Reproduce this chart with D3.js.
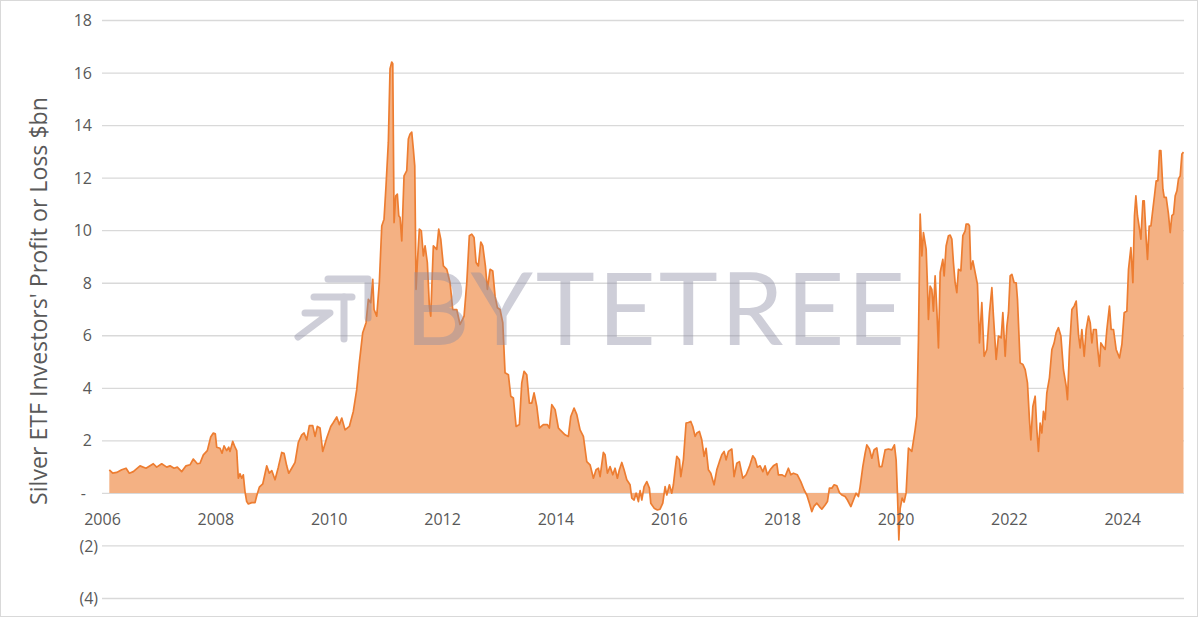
<!DOCTYPE html>
<html>
<head>
<meta charset="utf-8">
<script src="https://cdn.jsdelivr.net/npm/d3@7"></script>
<style>
  html, body { margin: 0; padding: 0; background: #fff; }
  svg { display: block; }
</style>
</head>
<body>
<svg id="chart" width="1200" height="618"></svg>
<script>
// ---- data ----
const yTickValues = [-4, -2, 0, 2, 4, 6, 8, 10, 12, 14, 16, 18];
const xTickYears = [2006, 2008, 2010, 2012, 2014, 2016, 2018, 2020, 2022, 2024];
const yAxisTitle = "Silver ETF Investors' Profit or Loss $bn";
const watermarkText = "BYTETREE";

// decimal-year dates of the series
const dates = [
2006.129,2006.189,2006.259,2006.348,2006.424,2006.482,2006.552,2006.671,2006.776,2006.905,2006.965,
2007.053,2007.142,2007.200,2007.271,2007.329,2007.406,2007.482,2007.553,2007.611,2007.682,2007.729,2007.788,2007.858,2007.918,2007.964,2007.999,
2008.024,2008.082,2008.118,2008.153,2008.200,2008.236,2008.259,2008.306,2008.347,2008.377,2008.405,2008.435,2008.465,2008.493,2008.523,2008.553,2008.582,2008.642,2008.700,2008.730,2008.776,2008.836,2008.906,2008.952,2008.995,
2009.053,2009.111,2009.171,2009.212,2009.259,2009.295,2009.347,2009.406,2009.464,2009.524,2009.565,2009.612,2009.658,2009.718,2009.759,2009.799,2009.847,2009.894,2009.965,
2010.036,2010.082,2010.142,2010.187,2010.230,2010.288,2010.364,2010.434,2010.494,2010.540,2010.600,2010.659,2010.699,2010.741,2010.777,2010.800,2010.847,2010.893,2010.936,2010.976,
2011.011,2011.052,2011.082,2011.112,2011.130,2011.153,2011.183,2011.211,2011.236,2011.259,2011.289,2011.329,2011.377,2011.405,2011.435,2011.465,2011.493,2011.518,2011.541,2011.564,2011.599,2011.634,2011.670,2011.700,2011.740,2011.776,2011.800,2011.846,2011.906,2011.941,2011.977,
2012.023,2012.083,2012.141,2012.188,2012.259,2012.317,2012.388,2012.436,2012.481,2012.524,2012.564,2012.600,2012.640,2012.683,2012.718,2012.764,2012.799,2012.847,2012.894,2012.935,2012.976,
2013.023,2013.071,2013.111,2013.170,2013.212,2013.258,2013.306,2013.364,2013.406,2013.447,2013.494,2013.540,2013.583,2013.623,2013.671,2013.717,2013.787,2013.858,2013.893,2013.936,2013.994,
2014.052,2014.082,2014.170,2014.228,2014.271,2014.329,2014.377,2014.435,2014.493,2014.553,2014.611,2014.670,2014.717,2014.758,2014.788,2014.846,2014.876,2014.917,2014.964,
2015.012,2015.052,2015.093,2015.128,2015.171,2015.211,2015.259,2015.317,2015.347,2015.388,2015.423,2015.464,2015.494,2015.524,2015.564,2015.612,2015.658,2015.682,2015.741,2015.799,2015.846,2015.894,2015.935,2015.965,
2016.011,2016.053,2016.081,2016.111,2016.141,2016.187,2016.212,2016.258,2016.305,2016.346,2016.388,2016.423,2016.464,2016.494,2016.540,2016.582,2016.623,2016.658,2016.699,2016.741,2016.799,2016.847,2016.893,2016.935,2016.976,
2017.011,2017.052,2017.112,2017.152,2017.200,2017.246,2017.306,2017.364,2017.422,2017.482,2017.523,2017.563,2017.611,2017.659,2017.699,2017.740,2017.788,2017.846,2017.906,2017.934,2017.994,
2018.052,2018.110,2018.153,2018.199,2018.269,2018.329,2018.388,2018.435,2018.481,2018.523,2018.564,2018.612,2018.658,2018.700,2018.758,2018.799,2018.834,2018.876,2018.917,2018.965,
2019.011,2019.053,2019.111,2019.152,2019.212,2019.258,2019.305,2019.346,2019.376,2019.423,2019.464,2019.494,2019.540,2019.582,2019.623,2019.670,2019.716,2019.759,2019.817,2019.875,2019.935,2019.981,
2020.011,2020.034,2020.059,2020.082,2020.117,2020.152,2020.187,2020.228,2020.288,2020.346,2020.376,2020.405,2020.435,2020.465,2020.493,2020.541,2020.564,2020.581,2020.611,2020.641,2020.669,2020.699,2020.729,2020.758,2020.788,2020.835,2020.858,2020.893,2020.934,2020.964,2020.994,
2021.022,2021.052,2021.082,2021.110,2021.153,2021.188,2021.229,2021.246,2021.287,2021.305,2021.329,2021.365,2021.405,2021.446,2021.481,2021.523,2021.564,2021.612,2021.658,2021.700,2021.728,2021.776,2021.816,2021.864,2021.894,2021.935,2021.965,2021.993,
2022.023,2022.053,2022.093,2022.129,2022.152,2022.199,2022.247,2022.288,2022.328,2022.363,2022.388,2022.423,2022.464,2022.494,2022.522,2022.552,2022.582,2022.610,2022.640,2022.670,2022.716,2022.759,2022.799,2022.835,2022.875,2022.918,2022.963,
2023.011,2023.034,2023.069,2023.112,2023.152,2023.188,2023.228,2023.258,2023.288,2023.329,2023.364,2023.405,2023.435,2023.465,2023.493,2023.541,2023.563,2023.599,2023.623,2023.659,2023.699,2023.729,2023.775,2023.805,2023.846,2023.893,2023.952,2023.994,
2024.035,2024.082,2024.111,2024.153,2024.188,2024.216,2024.241,2024.269,2024.305,2024.329,2024.365,2024.388,2024.423,2024.446,2024.476,2024.506,2024.541,2024.569,2024.599,2024.629,2024.658,2024.682,2024.718,2024.741,2024.776,2024.816,2024.846,2024.876,2024.905,2024.935,2024.965,2024.993,
2025.023,2025.053,2025.081
];

// profit or loss, $bn
const profitLoss = [
0.88,0.75,0.78,0.88,0.94,0.75,0.81,1.03,0.94,1.11,0.98,
1.11,0.98,1.03,0.94,0.98,0.81,1.03,1.07,1.29,1.11,1.13,1.45,1.61,2.13,2.28,2.25,
1.74,1.70,1.51,1.79,1.61,1.74,1.58,1.96,1.74,1.61,0.56,0.73,0.56,0.69,0.05,-0.33,-0.42,-0.37,-0.37,-0.11,0.22,0.34,1.03,0.75,0.85,
0.50,0.98,1.54,1.51,1.03,0.75,0.94,1.16,1.92,2.21,2.28,2.02,2.56,2.56,2.15,2.53,2.47,1.58,2.09,
2.53,2.68,2.89,2.60,2.85,2.40,2.53,3.10,3.93,4.95,6.10,6.48,7.37,7.24,8.13,6.98,6.73,8.00,10.16,10.42,
11.69,13.35,16.15,16.40,16.34,10.29,11.31,11.37,10.55,10.48,9.59,12.07,12.27,13.47,13.66,13.73,13.09,12.45,7.75,8.77,10.04,9.97,9.02,9.40,8.77,7.11,6.73,9.40,9.27,10.04,9.66,
8.64,8.51,8.00,6.98,6.98,6.41,6.73,8.00,9.79,9.85,9.72,8.77,8.64,9.55,9.40,8.64,7.75,8.51,8.45,7.49,7.05,
6.98,6.48,4.57,4.50,3.68,3.61,2.53,2.60,4.19,4.63,4.50,3.42,3.42,3.81,3.29,2.47,2.60,2.60,2.47,3.36,3.17,
2.47,2.40,2.21,2.15,2.91,3.23,2.98,2.40,2.15,1.19,1.07,0.56,0.88,0.94,0.62,1.54,1.45,0.75,1.00,
0.69,0.94,0.56,0.88,1.16,0.88,0.50,0.31,-0.20,-0.27,-0.01,-0.33,0.09,-0.27,0.24,0.43,0.18,-0.39,-0.58,-0.65,-0.62,-0.39,0.24,-0.08,
0.31,-0.01,0.31,0.88,1.39,1.26,0.62,1.26,2.66,2.68,2.72,2.53,2.15,2.28,2.34,2.02,1.39,1.70,0.88,0.75,0.31,0.88,1.19,1.45,1.58,
1.26,1.58,1.67,0.62,1.13,1.19,0.56,0.69,1.00,1.41,1.29,0.98,1.03,0.81,1.03,0.69,0.88,1.03,1.11,0.69,0.69,
0.62,0.94,0.69,0.75,0.69,0.43,0.11,-0.08,-0.39,-0.71,-0.50,-0.39,-0.52,-0.62,-0.46,-0.33,0.18,0.18,0.31,0.27,
0.01,-0.08,-0.14,-0.27,-0.52,-0.27,-0.01,-0.14,0.24,1.00,1.51,1.83,1.67,1.32,1.64,1.71,1.00,1.00,1.64,1.67,1.64,1.83,
1.26,-0.01,-1.79,-0.60,-0.20,-0.35,0.00,1.71,1.58,2.40,2.91,5.84,10.61,9.02,9.91,9.27,7.87,6.60,7.87,7.75,6.92,8.26,6.98,5.52,8.39,8.89,8.26,9.40,9.79,9.81,9.66,
8.77,8.00,7.62,8.51,8.45,9.79,9.97,10.23,10.23,10.16,8.51,8.83,8.39,7.94,5.71,7.24,5.20,5.46,6.86,7.81,6.73,5.08,5.97,5.90,6.86,5.20,6.35,6.86,
8.26,8.32,8.00,8.00,7.37,4.95,4.89,4.69,4.19,2.79,2.02,3.29,3.68,2.40,1.58,2.66,2.28,3.10,2.79,3.81,4.38,5.46,5.71,6.10,6.29,5.97,4.69,
4.06,3.55,5.46,6.98,7.11,7.30,6.03,5.52,6.22,5.20,6.22,6.73,6.48,5.71,6.22,6.22,5.58,4.82,5.71,5.58,5.46,6.22,7.11,6.22,6.22,5.46,5.14,5.65,
6.86,6.92,8.51,9.34,8.00,10.55,11.31,10.55,10.04,9.66,11.12,11.12,9.66,8.89,10.16,10.16,10.80,11.31,11.88,11.88,13.03,13.03,11.56,11.25,11.25,10.61,9.91,10.55,10.61,11.31,11.50,11.95,
12.07,12.90,12.97
];

// ---- chart ----
const svg = d3.select("#chart");
const W = 1200, H = 618;
const plot = { left: 102, right: 1184, top: 20, bottom: 598 };

const x = d3.scaleLinear().domain([2006, 2025.09]).range([plot.left, plot.right]);
const y = d3.scaleLinear().domain([-4, 18]).range([plot.bottom, plot.top]);

const series = dates.map((d, i) => ({ t: d, v: profitLoss[i] }));

// outer border
svg.append("rect").attr("x", 0.5).attr("y", 0.5).attr("width", W - 3).attr("height", H - 2)
  .attr("fill", "#fff").attr("stroke", "#d9d9d9").attr("stroke-width", 1);

const fontFam = "'Open Sans', 'Noto Sans', 'Liberation Sans', sans-serif";
const textCol = "#595959";

// gridlines
const grid = svg.append("g").attr("class", "grid")
  .attr("transform", `translate(${plot.left},0)`)
  .call(d3.axisLeft(y).tickValues(yTickValues).tickSize(-(plot.right - plot.left)).tickFormat(""));
grid.select(".domain").remove();
grid.selectAll("line").attr("stroke", "#d9d9d9").attr("stroke-width", 1.3);

// area + line
const area = d3.area().x(d => x(d.t)).y0(y(0)).y1(d => y(d.v));
const line = d3.line().x(d => x(d.t)).y(d => y(d.v));

svg.append("path").datum(series).attr("d", area).attr("fill", "#f4b183");
svg.append("path").datum(series).attr("d", line)
  .attr("fill", "none").attr("stroke", "#ed7d31").attr("stroke-width", 1.7).attr("stroke-linejoin", "round");

// watermark (on top, translucent)
const wm = svg.append("g").attr("opacity", 0.42);
wm.append("text")
  .attr("x", 405).attr("y", 345)
  .attr("textLength", 500).attr("lengthAdjust", "spacing")
  .attr("font-family", "Lato, 'Open Sans', sans-serif").attr("font-weight", 400)
  .attr("font-size", 100).attr("fill", "#8c8ca3")
  .text(watermarkText);
const icon = wm.append("g").attr("fill", "none").attr("stroke", "#8c8ca3")
  .attr("stroke-width", 7).attr("stroke-linecap", "round").attr("stroke-linejoin", "round");
icon.append("path").attr("d", "M328,279 H368 V318");
icon.append("path").attr("d", "M314,297 H352");
icon.append("path").attr("d", "M344,297 V339");
icon.append("path").attr("d", "M305,313 H330 L298,337");

// y axis labels
const fmtY = v => v === 0 ? "-" : (v < 0 ? `(${Math.abs(v)})` : `${v}`);
const yAxis = svg.append("g").attr("transform", `translate(92,0)`)
  .call(d3.axisLeft(y).tickValues(yTickValues).tickSize(0).tickPadding(0).tickFormat(fmtY));
yAxis.select(".domain").remove();
yAxis.selectAll("text")
  .attr("font-family", fontFam).attr("font-size", 16).attr("fill", textCol)
  .attr("dy", "0.35em")
  .attr("x", d => d < 0 ? 6 : (d === 0 ? -6 : 0));

// x axis labels
const xAxis = svg.append("g").attr("transform", `translate(0,${y(0)})`)
  .call(d3.axisBottom(x).tickValues(xTickYears).tickSize(0).tickFormat(d3.format("d")));
xAxis.select(".domain").remove();
xAxis.selectAll("text")
  .attr("font-family", fontFam).attr("font-size", 16).attr("fill", textCol)
  .attr("y", 32).attr("dy", 0);

// y axis title
const title = svg.append("text")
  .attr("transform", "translate(47,301) rotate(-90)")
  .attr("text-anchor", "middle")
  .attr("font-family", fontFam).attr("font-size", 20).attr("fill", textCol)
  .text(yAxisTitle);
const tl = title.node().getComputedTextLength();
title.attr("font-size", 20 * 408 / tl);
</script>
</body>
</html>
